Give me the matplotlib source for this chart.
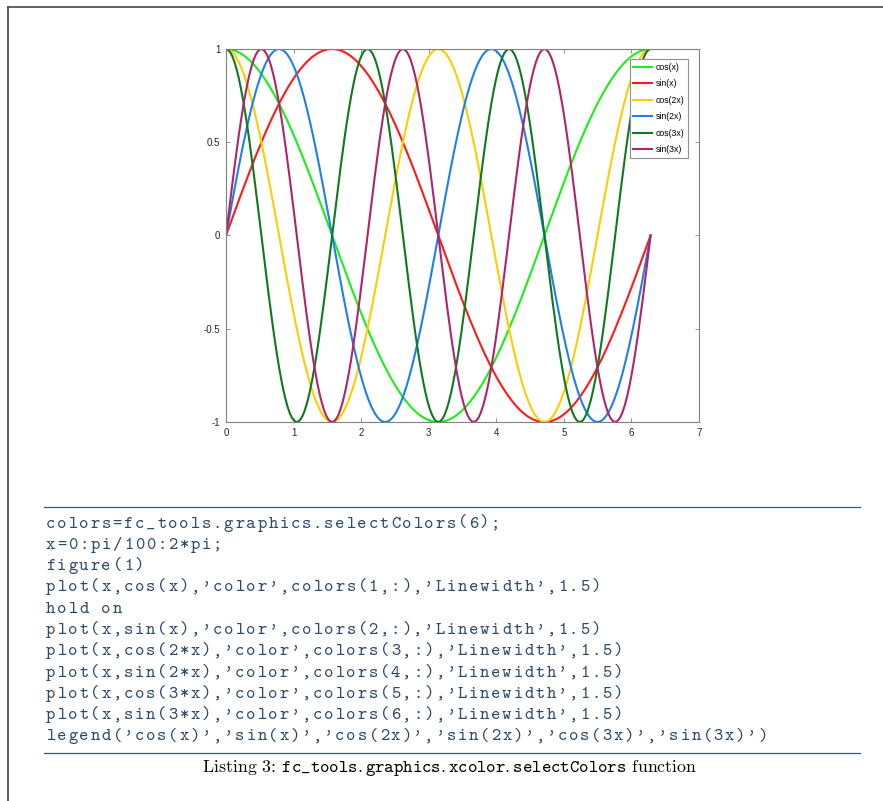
import numpy as np
import matplotlib.pyplot as plt
from matplotlib.lines import Line2D

# curves from the listing: x = 0:pi/100:2*pi
x = np.linspace(0, 2 * np.pi, 201)
cos_x = np.cos(x)
sin_x = np.sin(x)
cos_2x = np.cos(2 * x)
sin_2x = np.sin(2 * x)
cos_3x = np.cos(3 * x)
sin_3x = np.sin(3 * x)

labels = ['cos(x)', 'sin(x)', 'cos(2x)', 'sin(2x)', 'cos(3x)', 'sin(3x)']
series = [cos_x, sin_x, cos_2x, sin_2x, cos_3x, sin_3x]
colors = ['#19f019', '#ff1a1a', '#ffcc00', '#1f7fef', '#0d7a1f', '#b0246a']

xticks = [0, 1, 2, 3, 4, 5, 6, 7]
yticks = [-1, -0.5, 0, 0.5, 1]
ytick_labels = ['-1', '-0.5', '0', '0.5', '1']

code_lines = [
    "colors=fc_tools.graphics.selectColors(6);",
    "x=0:pi/100:2*pi;",
    "figure(1)",
    "plot(x,cos(x),'color',colors(1,:),'Linewidth',1.5)",
    "hold on",
    "plot(x,sin(x),'color',colors(2,:),'Linewidth',1.5)",
    "plot(x,cos(2*x),'color',colors(3,:),'Linewidth',1.5)",
    "plot(x,sin(2*x),'color',colors(4,:),'Linewidth',1.5)",
    "plot(x,cos(3*x),'color',colors(5,:),'Linewidth',1.5)",
    "plot(x,sin(3*x),'color',colors(6,:),'Linewidth',1.5)",
    "legend('cos(x)','sin(x)','cos(2x)','sin(2x)','cos(3x)','sin(3x)')",
]

W, H = 883, 801
fig = plt.figure(figsize=(W / 100, H / 100), dpi=100)


def fx(px):
    return px / W


def fy(py):
    return 1 - py / H


# page frame (top and left edge)
fig.add_artist(Line2D([fx(8), 1], [fy(7), fy(7)], color='#555555', lw=1.3))
fig.add_artist(Line2D([fx(8), fx(8)], [fy(7), 0], color='#555555', lw=1.3))

ax = fig.add_axes([fx(226), fy(422), (699 - 226) / W, (422 - 49) / H])
for vals, lab, col in zip(series, labels, colors):
    ax.plot(x, vals, color=col, lw=1.5, label=lab)

ax.set_xlim(0, 7)
ax.set_ylim(-1, 1)
ax.set_xticks(xticks)
ax.set_yticks(yticks)
ax.set_yticklabels(ytick_labels)
ax.tick_params(direction='in', length=3, width=0.6, top=True, right=True,
               labelsize=7, colors='#808080', labelcolor='#262626', pad=4)
for lbl in ax.get_xticklabels() + ax.get_yticklabels():
    lbl.set_fontfamily('Liberation Sans')
for sp in ax.spines.values():
    sp.set_color('#808080')
    sp.set_linewidth(0.8)

leg = ax.legend(loc='upper right', bbox_to_anchor=(fx(688), fy(59)),
                bbox_transform=fig.transFigure, borderaxespad=0,
                prop={'family': 'Liberation Sans', 'size': 6.3},
                fancybox=False, framealpha=1, edgecolor='#909090',
                borderpad=0.45, handlelength=2.1, handletextpad=0.4,
                labelspacing=0.85)
leg.get_frame().set_linewidth(0.8)

# listing rules
rule_col = '#3b5578'
fig.add_artist(Line2D([fx(44), fx(860)], [fy(507), fy(507)], color=rule_col, lw=0.9))
fig.add_artist(Line2D([fx(44), fx(860)], [fy(753), fy(753)], color=rule_col, lw=0.9))

# code listing, fixed columns like the listings package
code_col = '#2c4a6c'
pitch = 11.13
for i, line in enumerate(code_lines):
    yy = fy(524 + 21.3 * i)
    for j, ch in enumerate(line):
        if ch == ' ':
            continue
        fig.text(fx(50.5 + pitch * j), yy, ch, family='cmtt10', fontsize=12.8,
                 color=code_col, ha='center', va='center')

plt.rcParams['mathtext.fontset'] = 'cm'
fig.text(fx(449.5), fy(768),
         r'Listing 3: $\mathtt{fc\_tools.graphics.xcolor.selectColors}$ function',
         family='cmr10', fontsize=12.9, color='black', ha='center', va='center')

plt.savefig('out.png', dpi=100)
